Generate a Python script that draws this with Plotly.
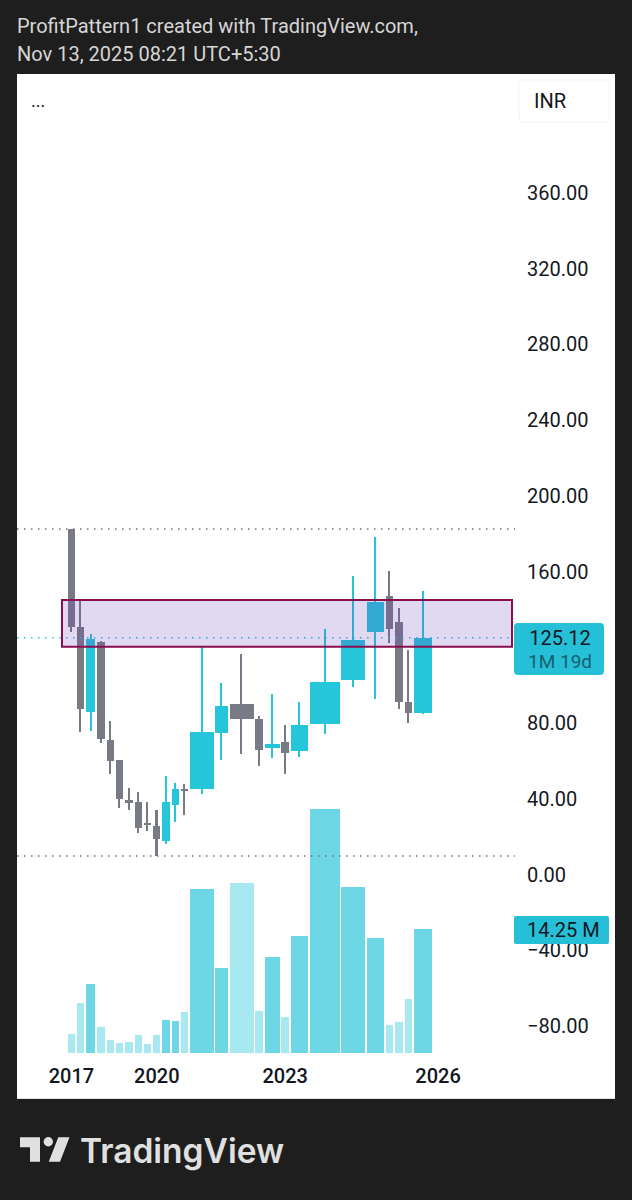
import numpy as np
import plotly.graph_objects as go

# ---------- data ----------
opens  = [182.3,130.6,86.0,123.0,71.2,60.7,39.5,38.1,26.9,25.8,17.7,36.5,45.3,45.2,74.7,89.9,82.0,66.6,70.0,65.4,79.3,102.8,127.9,146.9,133.6,91.1,85.5]
highs  = [182.5,145.0,127.0,123.5,80.9,60.7,45.5,43.6,38.5,34.1,52.0,48.2,47.8,120.3,101.0,116.7,83.9,95.2,79.0,91.1,129.5,157.9,178.5,160.3,140.6,118.6,149.9]
lows   = [128.3,75.3,75.8,69.6,53.3,35.1,33.9,22.1,22.8,9.8,16.1,27.9,31.2,42.4,60.3,63.8,57.5,61.4,53.3,62.2,74.0,98.9,92.5,122.5,87.6,79.9,84.8]
closes = [130.9,87.2,124.2,71.8,60.0,39.9,37.8,24.7,26.2,18.8,38.5,45.3,43.9,75.3,88.8,82.1,65.6,68.9,64.2,79.2,101.9,123.9,143.8,129.9,91.1,85.1,125.12]
volumes_m = [2.15,5.79,7.91,3.03,1.46,1.19,1.27,2.04,1.00,2.04,3.77,3.69,4.76,18.93,9.76,19.62,4.87,11.02,4.11,13.51,28.14,19.12,13.25,3.23,3.61,6.19,14.25]
year_labels = ["2017", "2020", "2023", "2026"]
year_bar_index = [0, 9, 18, 27]
price_ticks = [-80, -40, 0, 40, 80, 120, 160, 200, 240, 280, 320, 360]
zone_low, zone_high = 120.3, 145.0
last_price = 125.12
last_volume = 14.25

# ---------- page geometry ----------
W, H = 632, 1200
L, R, T, B = 17, 615, 74, 1099          # white panel
PLOT_RIGHT = 515
PX_PER_UNIT = 1.893
ZERO_Y = 874.5
VOL_BASE_Y = 1053
PX_PER_VOL = 1 / 0.1152

UP, DOWN = "#26c6da", "#787b86"
VOL_UP, VOL_DOWN = "#6dd7e6", "#a8e8f0"
DARK = "#1e1e1e"
TXT = "#131722"

px = lambda x: (x - L) / (R - L)
py = lambda y: (B - y) / (B - T)

# volume candle layout: slot width depends on the volume of the bar
vol = np.array(volumes_m)
widths = np.interp(vol, [0, 6.2, 7.9, 11, 14.25, 19, 28.14], [7.35, 7.35, 9.05, 14.75, 18.45, 23.25, 29.15])
GAP = 1.95
lefts = 67.7 + np.concatenate([[0], np.cumsum(widths[:-1] + GAP)])
centers = lefts + widths / 2
next_center = lefts[-1] + widths[-1] + GAP + 3.8
all_centers = list(centers) + [next_center]

o, h, l, c = map(np.array, (opens, highs, lows, closes))
up = c >= o

fig = go.Figure()
fig.add_trace(go.Bar(x=centers, y=vol, width=widths, yaxis="y2",
                     marker=dict(color=[VOL_UP if u else VOL_DOWN for u in up], line_width=0),
                     hoverinfo="skip", showlegend=False))
fig.add_trace(go.Bar(x=centers, y=h - l, base=l, width=1.6,
                     marker=dict(color=[UP if u else DOWN for u in up], line_width=0),
                     hoverinfo="skip", showlegend=False))
fig.add_trace(go.Bar(x=centers, y=np.abs(c - o), base=np.minimum(o, c), width=widths,
                     marker=dict(color=[UP if u else DOWN for u in up], line_width=0),
                     hoverinfo="skip", showlegend=False))

shapes = []
dot = "1.5px,5.5px"
for v, col in ((max(highs), "#6f7279"), (min(lows), "#6f7279"), (last_price, UP)):
    shapes.append(dict(type="line", xref="x", yref="y", x0=L, x1=PLOT_RIGHT, y0=v, y1=v,
                       line=dict(color=col, width=1.5, dash=dot), layer="above"))
shapes.append(dict(type="rect", xref="x", yref="y", x0=62, x1=512, y0=zone_low, y1=zone_high,
                   fillcolor="rgba(103,58,183,0.2)", line=dict(color="#880e4f", width=2), layer="above"))
shapes.append(dict(type="line", xref="paper", yref="paper", x0=0, x1=1, y0=py(1098.5), y1=py(1098.5),
                   line=dict(color="#e0e3eb", width=1), layer="above"))


def round_box(x0, y0, x1, y1, r, fill, line="rgba(0,0,0,0)", lw=0):
    X0, X1 = px(x0), px(x1)
    Y0, Y1 = py(y0), py(y1)
    rx, ry = r / (R - L), r / (B - T)
    path = (f"M{X0 + rx},{Y0} L{X1 - rx},{Y0} Q{X1},{Y0} {X1},{Y0 - ry} L{X1},{Y1 + ry} "
            f"Q{X1},{Y1} {X1 - rx},{Y1} L{X0 + rx},{Y1} Q{X0},{Y1} {X0},{Y1 + ry} "
            f"L{X0},{Y0 - ry} Q{X0},{Y0} {X0 + rx},{Y0} Z")
    return dict(type="path", xref="paper", yref="paper", path=path, fillcolor=fill,
                line=dict(color=line, width=lw), layer="above")


shapes.append(round_box(514, 623, 604, 675, 4, "#26bfd8"))
shapes.append(round_box(514, 916, 609, 944, 2, "#26bfd8"))
shapes.append(round_box(519, 80, 609, 122, 5, "#ffffff", "#f0f3fa", 1))

# logo
LOGO = "#e0e0e0"
poly = lambda pts: "M" + " L".join(f"{px(a)},{py(b)}" for a, b in pts) + " Z"
shapes.append(dict(type="path", xref="paper", yref="paper", fillcolor=LOGO, line_width=0,
                   path=poly([(20, 1137.3), (40, 1137.3), (40, 1161.7), (30, 1161.7), (30, 1147.3), (20, 1147.3)])))
shapes.append(dict(type="path", xref="paper", yref="paper", fillcolor=LOGO, line_width=0,
                   path=poly([(58.3, 1137.3), (69.5, 1137.3), (60, 1161.7), (48.7, 1161.7)])))
shapes.append(dict(type="circle", xref="paper", yref="paper", fillcolor=LOGO, line_width=0,
                   x0=px(43.6), x1=px(53), y0=py(1146.4), y1=py(1137)))


def text(x, y, s, size, color=TXT, anchor="left", family="Roboto", weight=None):
    return dict(xref="paper", yref="paper", x=px(x), y=py(y), text=s, showarrow=False,
                xanchor=anchor, yanchor="middle", align=anchor,
                font=dict(family=family, size=size, color=color, weight=weight))


price_label = (f"<span style='font-size:20px'>{last_price:.2f}</span><br>"
               "<span style='font-size:19px;color:#17606f'>1M 19d</span>")

annotations = [
    text(15, 26, "ProfitPattern1 created with TradingView.com,", 20, "#d6d6d6"),
    text(15, 54, "Nov 13, 2025 08:21 UTC+5:30", 20, "#d6d6d6"),
    text(29, 100, "...", 18),
    text(532, 101, "INR", 20),
    text(559.5, 649.5, price_label, 18, anchor="center"),
    text(563, 930, f"{last_volume:.2f} M", 20, anchor="center"),
    text(78, 1151, "TradingView", 33.5, LOGO, family="Inter", weight=600),
]

y_top = (ZERO_Y - T) / PX_PER_UNIT
y_bot = (ZERO_Y - B) / PX_PER_UNIT
v_top = (VOL_BASE_Y - T) / PX_PER_VOL
v_bot = (VOL_BASE_Y - B) / PX_PER_VOL

fig.update_layout(
    width=W, height=H, margin=dict(l=L, r=W - R, t=T, b=H - B, pad=0),
    paper_bgcolor=DARK, plot_bgcolor="#ffffff", barmode="overlay", bargap=0,
    showlegend=False, shapes=shapes, annotations=annotations,
    xaxis=dict(range=[L, R], domain=[0, 1], anchor="free", position=py(1062), showgrid=False,
               zeroline=False, showline=False, ticks="", tickmode="array",
               tickvals=[all_centers[i] for i in year_bar_index], ticktext=year_labels,
               tickangle=0, tickfont=dict(family="Roboto", size=20, color=TXT, weight=500)),
    yaxis=dict(range=[y_bot, y_top], domain=[0, 1], side="right", anchor="free", position=px(526),
               showgrid=False, zeroline=False, showline=False, ticks="", tickmode="array",
               tickvals=price_ticks, tickformat=".2f",
               tickfont=dict(family="Roboto", size=20, color=TXT)),
    yaxis2=dict(range=[v_bot, v_top], overlaying="y", side="left", visible=False, showgrid=False),
)

fig.write_html("out.html", config=dict(displayModeBar=False),
               post_script="document.body.style.margin='0';document.body.style.background='#1e1e1e';")
